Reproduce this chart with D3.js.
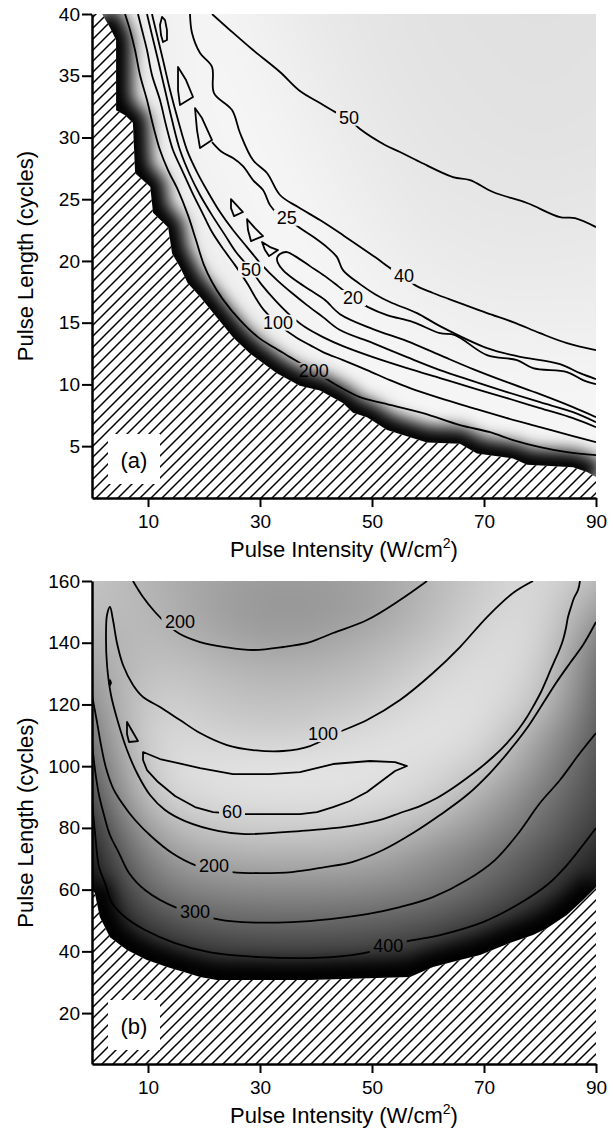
<!DOCTYPE html>
<html>
<head>
<meta charset="utf-8">
<script src="https://cdn.jsdelivr.net/npm/d3@7/dist/d3.min.js"></script>
<style>
body { margin: 0; background: #fff; }
svg text { font-family: "Liberation Sans", Arial, Helvetica, sans-serif; fill: #000; }
</style>
</head>
<body>
<script>
// ---- ticks ----
var xTicks = [10, 30, 50, 70, 90]
var yTicksA = [5, 10, 15, 20, 25, 30, 35, 40]
var yTicksB = [20, 40, 60, 80, 100, 120, 140, 160]

// ---- panel (a): edge of the hatched region, [intensity, cycles] ----
var boundaryA = [[1.8,40],[3.2,38.9],[4.3,37.9],[4.3,32.2],[5.9,31.8],[7.3,31.2],[7.7,27.1],[10.4,26.0],[10.9,23.9],[13.6,22.7],[14.3,20.6],[15.7,19.5],[17.1,18.2],[19.3,17.1],[21.6,15.8],[25.2,13.8],[28.2,12.5],[33.0,10.9],[37.1,9.9],[40.7,9.5],[44.8,8.5],[46.6,7.7],[49.1,7.35],[52.7,6.3],[59.8,5.3],[65.7,5.2],[68.75,4.4],[75.2,4.0],[77.7,3.5],[85.9,3.3],[88.4,2.9],[90,2.5]]
var hatchCornersA = [[90,0.8],[0,0.8],[0,40]]

// contour lines of panel (a)
var a200 = [[5.89,40],[6.79,38.7],[7.68,37.08],[8.57,35.06],[9.82,33.03],[10.89,31.01],[12.14,28.98],[13.57,27.36],[15.36,25.74],[17.14,23.71],[18.57,21.69],[20.0,19.66],[21.43,18.29],[23.21,16.99],[26.43,15.21],[29.64,13.83],[32.68,12.94],[35.36,12.21],[37.5,11.64],[41.61,10.51],[44.29,9.78],[47.86,8.97],[51.96,8.48],[59.11,7.67],[65.71,6.7],[71.07,6.13],[75.18,5.49],[80.0,4.92],[84.82,4.51],[90,4.27]]
var a100 = [[8.21,40],[8.93,38.7],[9.82,37.08],[10.71,35.06],[12.14,33.03],[13.21,31.01],[14.46,28.98],[16.07,27.36],[17.86,25.58],[19.64,23.96],[21.43,22.34],[23.57,20.88],[25.54,19.66],[27.68,18.21],[29.46,16.83],[30.71,16.02],[33.2,14.9],[36.61,13.75],[38.93,13.18],[41.25,12.62],[44.82,11.97],[49.11,11.16],[53.21,10.35],[56.79,9.7],[62.14,8.89],[68.04,8.08],[74.11,7.27],[80.0,6.54],[85.89,5.81],[90,5.32]]
var a50in = [[9.82,40],[10.71,38.3],[11.79,36.27],[13.04,33.84],[14.29,31.41],[15.71,28.98],[17.5,26.96],[19.29,25.34],[21.43,23.71],[23.75,22.09],[25.71,20.72],[28.2,19.4],[30.36,18.04],[32.68,16.83],[35.36,15.61],[38.04,14.64],[41.25,13.83],[44.82,13.1],[50.18,12.21],[56.25,11.32],[62.14,10.51],[68.04,9.7],[74.11,8.89],[80.0,8.08],[85.89,7.27],[90,6.54]]
var a25lo = [[10.71,40],[11.61,38.3],[12.68,36.27],[13.93,33.84],[15.36,31.41],[16.96,28.98],[18.75,27.2],[20.71,25.58],[22.86,23.96],[25.18,22.5],[27.68,21.12],[30.36,19.66],[33.04,18.45],[35.71,17.4],[38.39,16.42],[41.25,15.45],[44.29,14.4],[50.18,13.34],[56.25,12.21],[62.14,11.16],[68.04,10.27],[74.11,9.38],[80.0,8.56],[85.89,7.75],[90,6.94]]
var a20 = [[90,10.02],[87.68,10.35],[84.82,11.0],[78.75,11.32],[75.89,11.97],[70.54,12.37],[64.82,13.99],[62.14,14.15],[57.32,15.05],[52.68,15.61],[49.29,16.26],[46.61,16.99],[43.93,17.96],[41.61,18.77],[38.93,19.58],[36.25,20.39],[34.82,20.72],[33.57,20.56],[33.04,20.23],[33.21,19.83],[34.11,19.26],[36.25,18.45],[38.93,17.64],[41.61,16.83],[44.29,15.69],[50.18,14.48],[56.25,13.51],[62.14,12.37],[68.04,11.24],[74.11,10.18],[80.0,9.21],[85.89,8.16],[90,7.35]]
var a25up = [[21.43,29.63],[23.21,28.82],[25.18,28.33],[26.96,27.68],[28.75,26.55],[30.54,25.74],[31.79,24.52],[33.04,23.88],[34.82,23.47],[37.14,22.66],[39.82,21.85],[42.14,21.04],[43.75,20.31],[44.82,19.26],[47.86,18.12],[50.54,17.31],[53.21,16.67],[58.04,15.77],[62.14,14.72],[70.54,12.94],[75.89,12.29],[83.57,11.64],[87.14,10.91],[90,10.43]]
var a40 = [[17.5,40],[17.86,38.46],[19.29,36.84],[21.43,35.71],[21.79,33.6],[25.0,32.22],[26.43,30.36],[28.75,28.17],[31.25,27.12],[33.57,25.34],[36.79,24.36],[40.71,23.31],[44.82,22.09],[50.54,20.31],[53.75,19.26],[55.71,18.77],[57.68,18.04],[60.89,17.4],[65.71,16.58],[70.54,15.77],[75.18,15.05],[80.0,14.15],[84.82,13.34],[90,12.78]]
var a50out = [[21.43,40],[24.64,38.7],[28.75,37.08],[33.57,35.3],[37.14,33.76],[40.71,32.79],[43.75,31.98],[45.89,31.49],[47.86,30.68],[52.32,29.39],[55.0,28.82],[58.57,28.01],[64.46,26.79],[67.5,26.55],[71.61,25.58],[77.68,24.69],[83.57,23.55],[86.25,23.47],[90,22.74]]
var islandsA = [
  [[12.5,39.76],[13.04,39.51],[13.39,38.7],[13.39,37.89],[12.68,37.73],[12.32,38.3],[12.14,39.11]],
  [[15.36,35.71],[16.79,34.65],[18.04,33.28],[15.71,32.63],[15.36,33.84]],
  [[18.39,32.38],[19.64,31.57],[21.43,29.79],[19.29,29.14],[18.75,30.6]],
  [[24.82,25.01],[26.96,23.96],[25.36,23.63],[24.82,24.28]],
  [[27.68,23.39],[29.11,22.66],[30.54,22.01],[28.39,21.61],[27.86,22.5]],
  [[30.36,21.53],[31.79,21.12],[33.21,20.88],[31.61,20.39],[30.89,20.88]]
]
var labelsA = [['50',45.9,31.6],['25',34.8,23.5],['40',55.7,18.8],['20',46.6,17.0],['50',28.4,19.3],['100',33.2,15.0],['200',39.6,11.1]]

// grey level of panel (a), rows top to bottom
var shadeAx = [0,10,20,30,40,50,60,70,80,90]
var shadeAy = [40,35,30,25,20,15,10,5,0]
var shadeA = [
  [235,238,246,240,233,229,226,225,224,225],
  [235,236,247,243,236,230,227,226,225,226],
  [235,235,245,246,239,233,229,227,226,227],
  [235,235,240,247,243,236,231,230,229,230],
  [235,235,235,245,246,240,235,233,233,234],
  [235,235,235,238,247,246,241,238,238,238],
  [235,235,235,235,240,246,247,246,245,245],
  [235,235,235,235,235,238,242,245,246,247],
  [235,235,235,235,235,235,235,235,235,235]
]

// ---- panel (b) ----
var boundaryB = [[0,60],[0.5,58.9],[1.4,51.1],[3.2,44.6],[6.25,40.4],[9.8,37.2],[13.4,34.9],[17.0,33.0],[19.3,31.7],[22.3,30.7],[38.9,30.7],[56.8,31.7],[60.9,34.9],[65.7,37.2],[69.3,38.8],[74.6,42.7],[78.75,45.3],[81.25,47.5],[84.8,51.8],[87.7,56.6],[90,60.8]]
var hatchCornersB = [[90,3.5],[0,3.5]]

var b200top = [[7.32,160],[9.11,154.81],[11.25,149.95],[13.57,145.74],[15.71,142.82],[19.29,140.23],[23.75,138.61],[28.75,137.64],[34.11,138.61],[38.93,140.23],[43.04,143.15],[49.11,147.36],[55.0,153.84],[59.82,160]]
var b100 = [[87.14,160],[86.79,157.08],[86.07,154.49],[85.54,151.57],[85.0,148.33],[84.64,144.77],[84.11,140.88],[83.39,137.32],[82.5,133.75],[81.43,129.21],[80.18,124.03],[78.93,119.82],[77.68,115.93],[76.07,111.71],[74.11,107.5],[71.79,103.29],[69.29,99.4],[66.96,96.16],[64.46,92.92],[61.61,89.68],[58.57,87.08],[55.0,84.82],[51.96,82.87],[46.07,80.6],[37.14,78.98],[27.32,78.01],[22.68,78.98],[16.61,82.22],[13.04,85.79],[10.36,90.65],[8.21,97.13],[6.25,105.23],[4.64,114.31],[3.39,123.06],[2.68,132.78],[2.5,142.5],[2.68,148.98],[3.21,151.57],[3.75,147.36],[4.46,139.91],[5.54,132.78],[7.32,126.3],[9.11,122.41],[12.14,119.17],[15.71,114.95],[19.29,110.74],[24.11,106.85],[28.75,105.23],[34.11,104.91],[38.93,106.53],[43.75,110.74],[49.11,114.95],[55.0,121.44],[60.89,130.19],[65.71,138.61],[70.54,148.33],[75.18,156.11],[78.75,160]]
var b60 = [[9.11,104.58],[12.14,102.32],[19.29,99.4],[25.18,97.45],[31.79,97.45],[37.14,98.1],[43.04,100.7],[49.64,101.67],[54.11,101.34],[56.25,100.05],[54.11,98.43],[51.96,95.51],[49.11,91.62],[46.07,88.71],[43.04,86.76],[40.18,85.14],[37.14,84.49],[26.43,84.49],[21.61,85.14],[18.39,86.76],[14.82,90.33],[11.79,94.86],[9.82,98.75],[9.11,101.99]]
var b60tri = [[6.25,114.31],[8.21,108.15],[6.61,107.83],[6.25,110.42]]
var b60dot = [[3.21,127.9],[3.4,127.0],[3.21,126.3],[3.05,127.0]]
var b200lo = [[0,123.06],[0.89,114.31],[1.61,106.85],[2.5,99.4],[3.75,92.92],[5.36,88.06],[7.68,82.55],[10.71,77.04],[14.29,71.85],[18.39,67.97],[21.79,66.67],[25.0,65.7],[29.82,65.37],[35.71,65.7],[41.61,67.32],[46.43,68.94],[51.96,72.83],[57.32,78.33],[62.14,84.17],[66.96,90.65],[71.07,97.78],[74.64,105.23],[77.68,112.36],[80.36,119.82],[82.86,126.95],[85.36,133.43],[87.68,139.26],[90,146.71]]
var b300 = [[0,107.82],[0.54,98.75],[1.25,90.65],[2.14,84.17],[3.21,77.69],[4.82,71.85],[6.61,65.37],[9.46,59.86],[14.82,54.35],[18.39,52.73],[21.43,50.79],[26.79,49.49],[35.71,49.49],[42.5,50.46],[49.11,52.08],[55.0,54.35],[60.89,57.59],[66.96,63.1],[71.96,69.58],[75.89,77.69],[80.0,88.06],[83.57,95.51],[87.14,104.26],[90,110.74]]
var b400 = [[0,89.03],[0.54,78.33],[1.25,67.32],[2.32,62.13],[3.57,55.65],[5.89,51.11],[9.46,46.9],[14.82,42.69],[20.89,39.77],[29.82,38.15],[38.75,37.83],[46.43,38.8],[50.18,40.09],[52.86,41.71],[55.54,43.01],[62.14,45.28],[69.82,49.49],[75.89,55.0],[81.25,61.48],[84.82,67.97],[87.68,74.45],[90,79.95]]
var labelsB = [['200',15.7,146.7],['100',41.25,110.4],['60',25.0,85.1],['200',21.8,67.6],['300',18.4,52.7],['400',52.9,41.7]]

var shadeBx = [0,10,20,30,40,50,60,70,80,90]
var shadeBy = [160,150,140,130,120,110,100,90,80,70,60,50,40,30,20]
var shadeB = [
  [195,180,165,155,155,162,182,205,222,185],
  [190,185,162,150,150,160,185,210,222,160],
  [175,190,175,160,163,178,195,220,222,130],
  [160,200,190,180,182,190,212,225,212,115],
  [145,212,200,192,195,205,222,226,200,105],
  [125,220,212,205,210,222,228,222,165,95],
  [105,215,226,228,228,228,220,204,145,85],
  [80,205,220,225,225,222,212,172,125,75],
  [55,170,200,205,205,200,180,148,108,62],
  [35,140,168,175,175,170,145,118,85,40],
  [10,115,135,140,140,138,125,102,65,15],
  [0,72,100,105,105,100,90,65,25,0],
  [0,32,58,65,66,64,50,18,0,0],
  [0,0,10,15,15,10,0,0,0,0],
  [0,0,0,0,0,0,0,0,0,0]
]

var svg = d3.select('body').append('svg').attr('width', 613).attr('height', 1134)
var defs = svg.append('defs')

var hatch = defs.append('pattern').attr('id', 'hatch')
  .attr('patternUnits', 'userSpaceOnUse').attr('width', 11).attr('height', 11)
hatch.append('path').attr('d', 'M-1,1 L1,-1 M0,11 L11,0 M10,12 L12,10')
  .attr('stroke', '#000').attr('stroke-width', 1.5)

defs.append('filter').attr('id', 'soft').attr('filterUnits', 'userSpaceOnUse')
  .attr('x', 0).attr('y', 0).attr('width', 613).attr('height', 1134)
  .append('feGaussianBlur').attr('stdDeviation', 8)

// paint the grey grid smoothly (B-spline across columns, then rows)
function shadeImage(o, x, y) {
  var w = Math.round(x(90) - x(0)), h = Math.round(o.bottom - o.top)
  var c = document.createElement('canvas')
  c.width = w; c.height = h
  var ctx = c.getContext('2d')
  var img = ctx.createImageData(w, h)
  var ny = o.shadeY.length
  var tx = d3.scaleLinear().domain(d3.extent(o.shadeX)).range([0, 1]).clamp(true)
  var ty = d3.scaleLinear().domain([o.shadeY[0], o.shadeY[ny - 1]]).range([0, 1]).clamp(true)
  var rows = o.shade.map(function(r){ return d3.interpolateBasis(r) })
  for (var i = 0; i < w; i++) {
    var t = tx(x.invert(x(0) + i + 0.5))
    var col = d3.interpolateBasis(rows.map(function(f){ return f(t) }))
    for (var j = 0; j < h; j++) {
      var v = col(ty(y.invert(o.top + j + 0.5)))
      var k = (j * w + i) * 4
      img.data[k] = v; img.data[k + 1] = v; img.data[k + 2] = v; img.data[k + 3] = 255
    }
  }
  ctx.putImageData(img, 0, 0)
  return c.toDataURL()
}

function styleAxis(sel) {
  sel.attr('font-size', 19).attr('font-family', '"Liberation Sans", Arial, sans-serif')
  sel.select('.domain').attr('stroke-width', 2.5)
  sel.selectAll('.tick line').attr('stroke-width', 2)
}

function panel(o) {
  var x = d3.scaleLinear().domain([0, 90]).range([92, 596])
  var y = d3.scaleLinear().domain(o.yDomain).range([o.bottom, o.top])
  var line = d3.line().x(function(d){ return x(d[0]) }).y(function(d){ return y(d[1]) })
  var smooth = d3.line().x(function(d){ return x(d[0]) }).y(function(d){ return y(d[1]) }).curve(d3.curveCatmullRom.alpha(0.5))
  var closed = d3.line().x(function(d){ return x(d[0]) }).y(function(d){ return y(d[1]) }).curve(d3.curveLinearClosed)
  var g = svg.append('g')

  defs.append('clipPath').attr('id', 'clip' + o.name).append('rect')
    .attr('x', x(0)).attr('y', o.top).attr('width', x(90) - x(0)).attr('height', o.bottom - o.top)
  var plot = g.append('g').attr('clip-path', 'url(#clip' + o.name + ')')

  // grey background
  plot.append('image').attr('href', shadeImage(o, x, y)).attr('preserveAspectRatio', 'none')
    .attr('x', x(0)).attr('y', o.top)
    .attr('width', Math.round(x(90) - x(0))).attr('height', Math.round(o.bottom - o.top))

  // dark band along the hatched edge
  plot.append('path').attr('d', line(o.boundary)).attr('fill', 'none')
    .attr('stroke', '#000').attr('stroke-width', 32).attr('filter', 'url(#soft)')

  // hatched region
  var poly = o.boundary.concat(o.corners)
  plot.append('path').attr('d', line(poly) + 'Z').attr('fill', '#fff')
  plot.append('path').attr('d', line(poly) + 'Z').attr('fill', 'url(#hatch)')

  // contour lines with gaps at the labels
  var mask = defs.append('mask').attr('id', 'mask' + o.name).attr('maskUnits', 'userSpaceOnUse')
    .attr('x', 0).attr('y', 0).attr('width', 613).attr('height', 1134)
  mask.append('rect').attr('width', 613).attr('height', 1134).attr('fill', '#fff')
  mask.selectAll('rect.hole').data(o.labels).enter().append('rect').attr('class', 'hole')
    .attr('x', function(d){ return x(d[1]) - d[0].length * 5.5 - 2 })
    .attr('y', function(d){ return y(d[2]) - 8 })
    .attr('width', function(d){ return d[0].length * 11 + 4 })
    .attr('height', 16).attr('fill', '#000')

  var cg = plot.append('g').attr('mask', 'url(#mask' + o.name + ')')
    .attr('fill', 'none').attr('stroke', '#000').attr('stroke-width', 1.8).attr('stroke-linejoin', 'round')
  cg.selectAll('path.open').data(o.lines).enter().append('path').attr('class', 'open').attr('d', smooth)
  cg.selectAll('path.closed').data(o.loops).enter().append('path').attr('class', 'closed').attr('d', closed)

  plot.selectAll('text.lab').data(o.labels).enter().append('text').attr('class', 'lab')
    .attr('x', function(d){ return x(d[1]) }).attr('y', function(d){ return y(d[2]) })
    .attr('dy', '0.35em').attr('text-anchor', 'middle').attr('font-size', 18)
    .text(function(d){ return d[0] })

  // panel letter
  plot.append('rect').attr('x', x(0) + 16).attr('y', o.bottom - 64).attr('width', 52).attr('height', 50).attr('fill', '#fff')
  plot.append('text').attr('x', x(0) + 42).attr('y', o.bottom - 38).attr('dy', '0.35em')
    .attr('text-anchor', 'middle').attr('font-size', 22).text(o.tag)

  // axes
  g.append('g').attr('transform', 'translate(0,' + o.bottom + ')')
    .call(d3.axisBottom(x).tickValues(xTicks).tickSize(9).tickPadding(8).tickSizeOuter(0))
    .call(styleAxis)
  g.append('g').attr('transform', 'translate(' + x(0) + ',0)')
    .call(d3.axisLeft(y).tickValues(o.yTicks).tickSize(10).tickPadding(2).tickSizeOuter(0))
    .call(styleAxis)

  var t = g.append('text').attr('x', (x(0) + x(90)) / 2).attr('y', o.bottom + 59)
    .attr('text-anchor', 'middle').attr('font-size', 22)
  t.append('tspan').text('Pulse Intensity (W/cm')
  t.append('tspan').attr('font-size', 14).attr('dy', -9).text('2')
  t.append('tspan').attr('dy', 9).text(')')

  g.append('text').attr('transform', 'translate(33,' + (o.top + o.bottom) / 2 + ') rotate(-90)')
    .attr('text-anchor', 'middle').attr('font-size', 22).text('Pulse Length (cycles)')
}

panel({
  name: 'a', tag: '(a)', top: 14, bottom: 498, yDomain: [0.8, 40], yTicks: yTicksA,
  boundary: boundaryA, corners: hatchCornersA,
  shadeX: shadeAx, shadeY: shadeAy, shade: shadeA,
  lines: [a200, a100, a50in, a25lo, a20, a25up, a40, a50out],
  loops: islandsA, labels: labelsA
})

panel({
  name: 'b', tag: '(b)', top: 581, bottom: 1064, yDomain: [3.5, 160], yTicks: yTicksB,
  boundary: boundaryB, corners: hatchCornersB,
  shadeX: shadeBx, shadeY: shadeBy, shade: shadeB,
  lines: [b200top, b100, b200lo, b300, b400],
  loops: [b60, b60tri, b60dot], labels: labelsB
})
</script>
</body>
</html>
